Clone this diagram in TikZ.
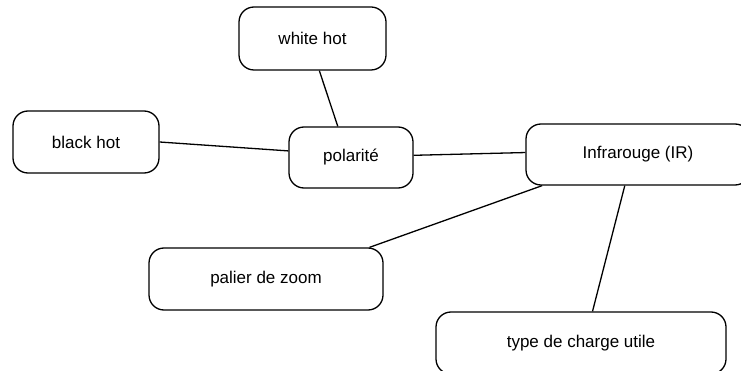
\documentclass[tikz,border=0pt]{standalone}
\usepackage{fontspec}
\setmainfont{Liberation Sans}
\begin{document}
\begin{tikzpicture}[x=1pt,y=-1pt,
  box/.style={draw,rounded corners=15pt,line width=1.3pt,fill=white,
    font=\fontsize{17}{20}\selectfont,inner sep=0pt},
  link/.style={line width=1.3pt}]
\useasboundingbox (0,0) rectangle (741,371);
\clip (0,0) rectangle (741,371);
\node[box,minimum width=147pt,minimum height=63pt] (wh) at (312.5,38.5) {white hot};
\node[box,minimum width=146pt,minimum height=62pt] (bh) at (86,142) {black hot};
\node[box,minimum width=124pt,minimum height=61pt] (pol) at (351,157.5) {polarité};
\node[box,minimum width=224pt,minimum height=61pt] (ir) at (638,154.5) {Infrarouge (IR)};
\node[box,minimum width=234pt,minimum height=62pt] (pz) at (266,279) {palier de zoom};
\node[box,minimum width=290pt,minimum height=62pt] (tc) at (581,343) {type de charge utile};
\draw[link] (wh.-78.3) -- (pol.113.1);
\draw[link] (bh.-0.8) -- (pol.174);
\draw[link] (pol.2.3) -- (ir.179.2);
\draw[link] (ir.-162.4) -- (pz.17.1);
\draw[link] (ir.-113.1) -- (tc.70.5);
\end{tikzpicture}
\end{document}
